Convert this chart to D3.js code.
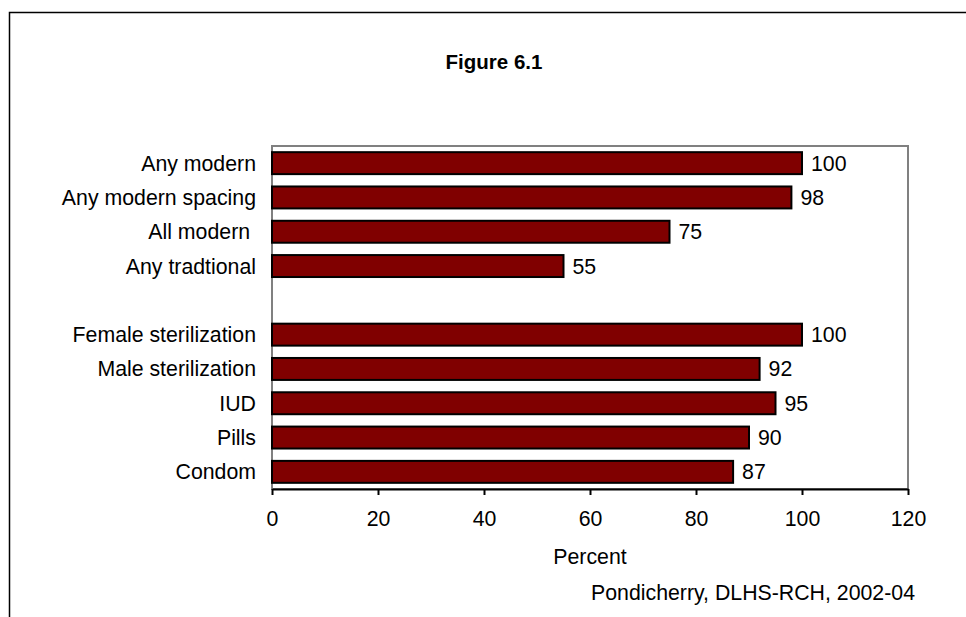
<!DOCTYPE html>
<html>
<head>
<meta charset="utf-8">
<script src="https://cdn.jsdelivr.net/npm/d3@7"></script>
<style>
  html, body { margin: 0; padding: 0; background: #fff; }
  svg { display: block; font-family: "Liberation Sans", Arial, sans-serif; }
</style>
</head>
<body>
<svg id="chart" width="966" height="617"></svg>
<script>
// Contraceptive methods, top to bottom; an empty entry separates the two groups
const categories = [
  "Any modern", "Any modern spacing", "All modern ", "Any tradtional", "",
  "Female sterilization", "Male sterilization", "IUD", "Pills", "Condom"
];
const values = [100, 98, 75, 55, null, 100, 92, 95, 90, 87];
const xTicks = [0, 20, 40, 60, 80, 100, 120];

const title = "Figure 6.1";
const xTitle = "Percent";
const source = "Pondicherry, DLHS-RCH, 2002-04";

const FONT = 21.3;
const svg = d3.select("#chart");

// outer frame
svg.append("rect")
  .attr("x", 9.5).attr("y", 12.5)
  .attr("width", 1000).attr("height", 700)
  .attr("fill", "none").attr("stroke", "#000").attr("stroke-width", 1.5);

const plot = { left: 272, right: 908, top: 146, bottom: 489 };

const x = d3.scaleLinear().domain([0, 120]).range([plot.left, plot.right]);
const y = d3.scaleBand().domain(d3.range(categories.length))
  .range([plot.top, plot.bottom]).paddingInner(0.36).paddingOuter(0.18);

// plot area frame
svg.append("rect")
  .attr("x", plot.left).attr("y", plot.top)
  .attr("width", plot.right - plot.left).attr("height", plot.bottom - plot.top)
  .attr("fill", "none").attr("stroke", "#808080").attr("stroke-width", 2);

const rows = categories.map((c, i) => ({ c, v: values[i], i }));

// bars
svg.append("g").selectAll("rect")
  .data(rows.filter(d => d.v != null))
  .join("rect")
  .attr("x", x(0))
  .attr("y", d => y(d.i))
  .attr("width", d => x(d.v) - x(0))
  .attr("height", y.bandwidth())
  .attr("fill", "#800000")
  .attr("stroke", "#000")
  .attr("stroke-width", 2);

// value labels
svg.append("g").selectAll("text")
  .data(rows.filter(d => d.v != null))
  .join("text")
  .attr("x", d => x(d.v) + 9)
  .attr("y", d => y(d.i) + y.bandwidth() / 2)
  .attr("dy", "0.35em")
  .attr("font-size", FONT)
  .attr("fill", "#000")
  .text(d => d.v);

// category labels
svg.append("g").selectAll("text")
  .data(rows)
  .join("text")
  .attr("x", 256)
  .attr("y", d => y(d.i) + y.bandwidth() / 2)
  .attr("dy", "0.35em")
  .attr("text-anchor", "end")
  .attr("font-size", FONT)
  .attr("fill", "#000")
  .style("white-space", "pre")
  .text(d => d.c);

// x axis
const xAxis = svg.append("g")
  .attr("transform", `translate(0,${plot.bottom})`)
  .call(d3.axisBottom(x).tickValues(xTicks).tickSize(6).tickSizeOuter(0).tickPadding(12));
xAxis.select(".domain").attr("stroke", "#000").attr("stroke-width", 2);
xAxis.selectAll(".tick line").attr("stroke", "#000").attr("stroke-width", 2);
xAxis.selectAll(".tick text")
  .attr("y", 30).attr("dy", "0.35em")
  .attr("font-size", FONT).attr("fill", "#000")
  .attr("font-family", "'Liberation Sans', Arial, sans-serif");

// titles
svg.append("text")
  .attr("x", 494).attr("y", 69)
  .attr("text-anchor", "middle")
  .attr("font-size", 20.5).attr("font-weight", "bold")
  .text(title);

svg.append("text")
  .attr("x", 590).attr("y", 564)
  .attr("text-anchor", "middle")
  .attr("font-size", FONT)
  .text(xTitle);

svg.append("text")
  .attr("x", 915).attr("y", 600)
  .attr("text-anchor", "end")
  .attr("font-size", FONT)
  .text(source);
</script>
</body>
</html>
